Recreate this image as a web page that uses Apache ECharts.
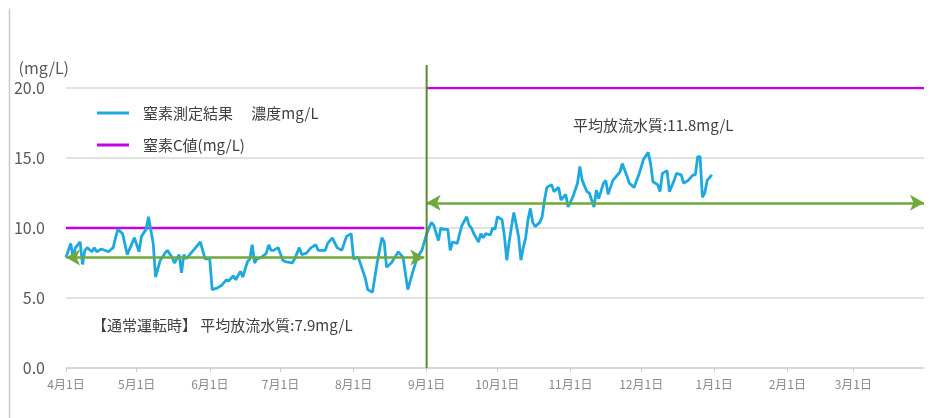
<!DOCTYPE html>
<html>
<head>
<meta charset="utf-8">
<script src="https://cdn.jsdelivr.net/npm/echarts@6/dist/echarts.min.js"></script>
<style>
  html, body { margin: 0; padding: 0; background: #fff; }
  #chart { width: 948px; height: 418px; }
</style>
</head>
<body>
<div id="chart"></div>
<script>
// Fiscal year: 4/1 .. 3/31 (daily category axis)
const fiscalStart = Date.UTC(2022, 3, 1);
const dayCount = 365;

// Nitrogen measurement (mg/L), sampled dates and values
const nitrogenDates = [
  '04-01','04-03','04-04','04-05','04-07','04-08','04-09','04-10','04-12','04-13',
  '04-14','04-16','04-19','04-21','04-22','04-23','04-25','04-27','04-29','04-30',
  '05-02','05-03','05-05','05-06','05-08','05-09','05-11','05-13','05-14','05-16',
  '05-17','05-19','05-20','05-21','05-22','05-24','05-26','05-28','05-30','06-01',
  '06-02','06-04','06-06','06-08','06-09','06-11','06-12','06-14','06-15','06-17',
  '06-18','06-19','06-20','06-21','06-23','06-25','06-26','06-27','06-28','06-30',
  '07-02','07-03','07-06','07-07','07-09','07-10','07-12','07-14','07-16','07-17',
  '07-20','07-21','07-23','07-25','07-27','07-29','07-31','08-01','08-03','08-06',
  '08-07','08-09','08-11','08-13','08-14','08-15','08-17','08-20','08-22','08-24',
  '08-26','08-28','08-30',
  '09-01','09-03','09-04','09-06','09-07','09-08','09-10','09-11','09-12','09-14',
  '09-15','09-16','09-18','09-19','09-20','09-21','09-23','09-24','09-25','09-26',
  '09-28','09-29','09-30','10-01','10-03','10-04','10-05','10-06','10-07','10-08',
  '10-10','10-11','10-12','10-13','10-14','10-15','10-16','10-17','10-19','10-20',
  '10-21','10-22','10-24','10-25','10-27','10-28','10-30','10-31','11-02','11-04',
  '11-05','11-06','11-08','11-09','11-11','11-12','11-13','11-15','11-16','11-17',
  '11-19','11-20','11-22','11-23','11-25','11-26','11-28','11-30','12-02','12-04',
  '12-05','12-06','12-08','12-09','12-10','12-12','12-13','12-15','12-16','12-18',
  '12-19','12-21','12-23','12-24','12-25','12-26','12-27','12-28','12-29','12-31'
];
const nitrogenValues = [
  7.9, 8.9, 7.9, 8.6, 9.0, 7.4, 8.4, 8.6, 8.3, 8.6,
  8.3, 8.5, 8.3, 8.6, 9.3, 9.9, 9.6, 8.1, 8.9, 9.3,
  8.3, 9.4, 9.9, 10.8, 8.9, 6.5, 7.7, 8.2, 8.4, 7.9,
  7.5, 8.1, 6.8, 8.1, 7.8, 8.2, 8.6, 9.0, 7.8, 7.8,
  5.6, 5.7, 5.9, 6.3, 6.2, 6.6, 6.3, 6.9, 6.5, 7.6,
  7.8, 8.8, 7.5, 7.8, 7.9, 8.2, 8.8, 8.4, 8.4, 8.6,
  7.7, 7.6, 7.5, 7.8, 8.6, 8.1, 8.2, 8.6, 8.8, 8.4,
  8.4, 8.9, 9.3, 8.6, 8.4, 9.4, 9.6, 7.8, 7.9, 6.4,
  5.6, 5.4, 7.5, 9.3, 9.0, 7.2, 7.5, 8.3, 7.9, 5.6,
  6.8, 7.9, 8.4,
  9.6, 10.4, 10.2, 9.1, 10.0, 9.9, 9.9, 8.4, 9.0, 8.9,
  9.6, 10.2, 10.8, 10.2, 10.0, 9.6, 9.0, 9.6, 9.3, 9.6,
  9.5, 10.0, 9.9, 10.8, 10.6, 9.4, 7.7, 9.0, 10.1, 11.1,
  9.4, 7.7, 8.6, 9.3, 10.6, 11.4, 10.4, 10.1, 10.4, 10.8,
  12.0, 12.9, 13.1, 12.6, 12.9, 12.0, 12.4, 11.5, 12.2, 13.2,
  14.4, 13.4, 12.6, 12.5, 11.5, 12.7, 12.1, 13.2, 13.4, 12.4,
  13.4, 13.6, 14.0, 14.6, 13.7, 13.2, 12.9, 13.8, 14.9, 15.4,
  14.6, 13.3, 13.1, 12.6, 13.9, 14.1, 12.6, 13.4, 13.9, 13.8,
  13.2, 13.4, 13.8, 13.8, 15.1, 15.1, 12.2, 12.5, 13.4, 13.8
];

// Nitrogen C value (mg/L): normal operation, then from 9/1
const cValueNormalDates = ['04-01', '08-31'];
const cValueNormal = [10, 10];
const cValueLaterDates = ['09-01', '03-31'];
const cValueLater = [20, 20];

// Average effluent quality (mg/L) per period
const avgNormalDates = ['04-01', '08-31'];
const avgNormal = 7.9;
const avgLaterDates = ['09-01', '03-31'];
const avgLater = 11.8;

// Switch-over date
const switchDate = '09-01';

const yTicks = [0, 5, 10, 15, 20];

const seriesNames = ['窒素測定結果　 濃度mg/L', '窒素C値(mg/L)'];

function pad(n) { return (n < 10 ? '0' : '') + n; }
const categories = [];
for (let i = 0; i < dayCount; i++) {
  const d = new Date(fiscalStart + i * 86400000);
  categories.push(pad(d.getUTCMonth() + 1) + '-' + pad(d.getUTCDate()));
}
const isMonthStart = (idx, val) => val.slice(3) === '01';

const zip = (xs, ys) => xs.map((x, i) => [x, Array.isArray(ys) ? ys[i] : ys]);

const font = "'Noto Sans CJK JP', 'Noto Sans', sans-serif";
const green = '#6fa83e';

const chart = echarts.init(document.getElementById('chart'), null, { renderer: 'canvas' });
chart.setOption({
  animation: false,
  backgroundColor: '#ffffff',
  textStyle: { fontFamily: font },
  grid: { left: 66, right: 24, top: 88, bottom: 50, containLabel: false },
  legend: {
    data: seriesNames,
    orient: 'vertical',
    left: 92,
    top: 99,
    itemWidth: 32,
    itemHeight: 3,
    itemGap: 14,
    icon: 'rect',
    textStyle: { fontFamily: font, fontSize: 15, color: '#404040', lineHeight: 18, padding: [0, 0, 0, 9] }
  },
  xAxis: {
    type: 'category',
    data: categories,
    boundaryGap: false,
    axisLine: { lineStyle: { color: '#d4d4d4', width: 1.5 } },
    axisTick: { interval: isMonthStart, length: 4, lineStyle: { color: '#c8c8c8' } },
    axisLabel: {
      interval: isMonthStart,
      formatter: v => (+v.slice(0, 2)) + '月' + (+v.slice(3)) + '日',
      fontFamily: font, fontSize: 12, color: '#8a8a8a', margin: 10
    },
    splitLine: { show: false }
  },
  yAxis: {
    type: 'value',
    min: yTicks[0],
    max: yTicks[yTicks.length - 1],
    interval: 5,
    name: '(mg/L)',
    nameLocation: 'end',
    nameGap: 12,
    nameTextStyle: { fontFamily: font, fontSize: 16, color: '#595959', align: 'right', padding: [0, -3, 0, 0] },
    axisLine: { show: false },
    axisTick: { show: false },
    axisLabel: { formatter: v => v.toFixed(1), fontFamily: font, fontSize: 16, color: '#595959', margin: 21 },
    splitLine: { lineStyle: { color: '#d9d9d9', width: 1.5 } }
  },
  series: [
    {
      name: seriesNames[0],
      type: 'line',
      data: zip(nitrogenDates, nitrogenValues),
      showSymbol: false,
      color: '#1ea8e0',
      lineStyle: { width: 2.8, color: '#1ea8e0' },
      z: 3
    },
    {
      name: seriesNames[1],
      type: 'line',
      data: zip(cValueNormalDates, cValueNormal),
      showSymbol: false,
      color: '#c400e8',
      lineStyle: { width: 2.6, color: '#c400e8' },
      z: 2
    },
    {
      name: seriesNames[1],
      type: 'line',
      data: zip(cValueLaterDates, cValueLater),
      showSymbol: false,
      color: '#c400e8',
      lineStyle: { width: 2.6, color: '#c400e8' },
      z: 2
    },
    {
      name: '平均放流水質',
      type: 'line',
      data: [],
      z: 4,
      markLine: {
        silent: true,
        animation: false,
        symbol: ['arrow', 'arrow'],
        symbolSize: [12, 14],
        label: { show: false },
        lineStyle: { color: green, width: 2.6, type: 'solid' },
        data: [
          [{ coord: [avgNormalDates[0], avgNormal] }, { coord: [avgNormalDates[1], avgNormal] }],
          [{ coord: [avgLaterDates[0], avgLater] }, { coord: [avgLaterDates[1], avgLater] }]
        ]
      }
    }
  ],
  graphic: [
    { type: 'line', silent: true, shape: { x1: 9.5, y1: 8.5, x2: 948, y2: 8.5 }, style: { stroke: '#c9c9c9', lineWidth: 1.5 } },
    { type: 'line', silent: true, shape: { x1: 9.5, y1: 8.5, x2: 9.5, y2: 418 }, style: { stroke: '#c9c9c9', lineWidth: 1.5 } },
    {
      type: 'text', silent: true, left: 573, top: 118,
      style: { text: '平均放流水質:11.8mg/L', font: "15px 'Noto Sans CJK JP', sans-serif", fill: '#404040' }
    },
    {
      type: 'text', silent: true, left: 92, top: 318,
      style: { text: '【通常運転時】 平均放流水質:7.9mg/L', font: "15px 'Noto Sans CJK JP', sans-serif", fill: '#404040' }
    }
  ]
});

// Vertical marker at the switch-over date, placed through the axis scales
const switchX = chart.convertToPixel({ xAxisIndex: 0 }, switchDate);
const baseY = chart.convertToPixel({ yAxisIndex: 0 }, yTicks[0]);
chart.setOption({
  graphic: [
    { type: 'line', silent: true, z: 10, shape: { x1: switchX, y1: 65, x2: switchX, y2: baseY }, style: { stroke: '#5b8a2e', lineWidth: 2 } }
  ]
});
</script>
</body>
</html>
